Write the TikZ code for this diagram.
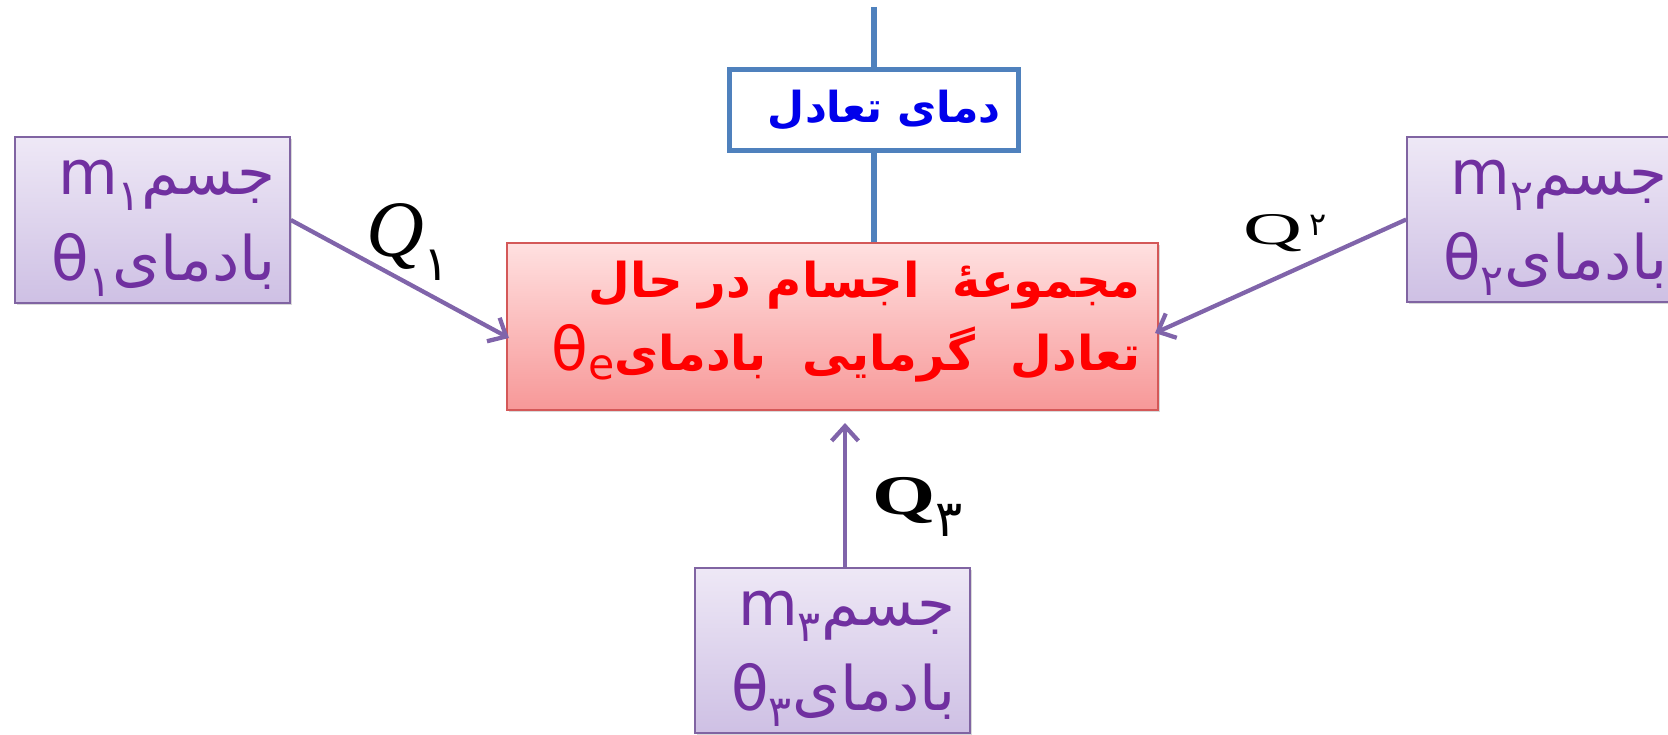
\documentclass[tikz,border=0pt]{standalone}
\usepackage{fontspec}
\usepackage{graphicx}
\setmainfont{Liberation Serif}
\newfontfamily\farsi[Script=Arabic]{DejaVu Sans}
\TeXXeTstate=1
\usetikzlibrary{arrows.meta,shadows}

\definecolor{bodyedge}{RGB}{128,100,162}
\definecolor{bodytop}{RGB}{238,232,246}
\definecolor{bodybot}{RGB}{206,192,228}
\definecolor{bodytext}{RGB}{112,48,160}
\definecolor{sysedge}{RGB}{212,88,88}
\definecolor{systop}{RGB}{255,224,224}
\definecolor{sysbot}{RGB}{247,152,152}
\definecolor{systext}{RGB}{255,0,0}
\definecolor{tempedge}{RGB}{79,129,189}
\definecolor{temptext}{RGB}{0,0,235}
\definecolor{heatline}{RGB}{128,100,170}

\tikzset{
	body/.style={draw=bodyedge, line width=1.5pt, top color=bodytop, bottom color=bodybot,
		drop shadow={shadow xshift=1.5pt, shadow yshift=-1.5pt, opacity=0.3},
		minimum width=206pt, minimum height=124pt, text width=184pt, inner xsep=11pt, align=right,
		text height=26pt, text depth=63.5pt,
		text=bodytext, font=\farsi\fontsize{46}{64}\selectfont},
	system/.style={draw=sysedge, line width=1.5pt, top color=systop, bottom color=sysbot,
		drop shadow={shadow xshift=1.5pt, shadow yshift=-1.5pt, opacity=0.3},
		minimum width=488pt, minimum height=125pt, text width=462pt, inner xsep=0pt, align=right,
		text height=20pt, text depth=64pt,
		text=systext, font=\farsi\bfseries\fontsize{36}{57}\selectfont},
	eqtemp/.style={draw=tempedge, fill=white, line width=3.5pt, minimum width=217pt, minimum height=61pt,
		text width=190pt, align=right, inner xsep=0pt,
		text=temptext, font=\farsi\bfseries\fontsize{32}{40}\selectfont},
	heat/.style={draw=heatline, line width=3.2pt, -{Straight Barb[length=11pt,width=20pt]}},
	tieline/.style={draw=tempedge, line width=4.5pt},
	qlabel/.style={inner sep=0pt, text=black}
}
\tikzset{every picture/.style={line width=0.75pt}}

\begin{document}
\begin{tikzpicture}[x=0.75pt,y=0.75pt,yscale=-1,xscale=1]
	\useasboundingbox (0,0) rectangle (1668,735);
	\clip (0,0) rectangle (1668,735);

	% equilibrium temperature
	\node[eqtemp] (eq) at (874,110) {\beginR دمای تعادل\endR};
	% bodies in equilibrium
	\node[system] (sys) at (832.5,326.5) {\beginR مجموعهٔ\ \ اجسام در حال\endR\\[-2pt]\beginR تعادل\hspace{0.75em}گرمایی\hspace{0.75em}بادمای\beginL{\mdseries\fontsize{45}{57}\selectfont θ\raisebox{-7pt}{\fontsize{32}{36}\selectfont e}}\endL\endR};

	% the three bodies
	\node[body] (b1) at (152.5,220) {\beginR جسم\beginL m\textsubscript{۱}\endL\endR\\\beginR بادمای\beginL θ\textsubscript{۱}\endL\endR};
	\node[body] (b2) at (1544.5,219.5) {\beginR جسم\beginL m\textsubscript{۲}\endL\endR\\\beginR بادمای\beginL θ\textsubscript{۲}\endL\endR};
	\node[body] (b3) at (832.5,650.5) {\beginR جسم\beginL m\textsubscript{۳}\endL\endR\\\beginR بادمای\beginL θ\textsubscript{۳}\endL\endR};

	% line to the temperature box
	\coordinate (top) at (874,7);
	\draw[tieline] (top) -- (eq.north);
	\draw[tieline] (eq.south) -- (eq.south |- sys.north);

	% heat flows
	\coordinate (in1) at (509,338);
	\coordinate (in2) at (1155,333);
	\coordinate (in3) at (845,423);
	\draw[heat] (b1.east) -- (in1);
	\draw[heat] (b2.west) -- (in2);
	\draw[heat] (in3 |- b3.north) -- (in3);

	% Text Node
	\node[qlabel] (q1) at (408,242) {\fontsize{60}{66}\selectfont\itshape Q\raisebox{-0.3em}{\farsi\upshape\fontsize{36}{40}\selectfont ۱}};
	% Text Node
	\node[qlabel] (q2) at (1285,233) {\fontsize{34}{40}\selectfont\scalebox{1.8}[1]{Q}\,\raisebox{0.2em}{\farsi\fontsize{24}{28}\selectfont ۲}};
	% Text Node
	\node[qlabel] (q3) at (918,507) {\fontsize{42}{48}\selectfont\bfseries\scalebox{1.45}[1]{Q}\raisebox{-0.4em}{\farsi\mdseries\fontsize{38}{42}\selectfont ۳}};

\end{tikzpicture}
\end{document}
